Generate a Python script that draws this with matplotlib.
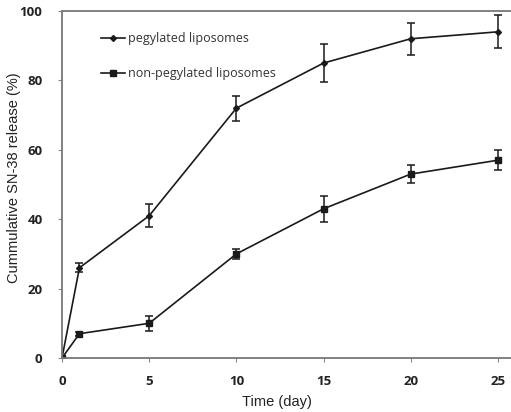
import matplotlib
matplotlib.use("Agg")
import matplotlib.pyplot as plt
from matplotlib.lines import Line2D

days = [0, 1, 5, 10, 15, 20, 25]
peg = [0, 26, 41, 72, 85, 92, 94]
peg_err = [0, 1.3, 3.3, 3.6, 5.5, 4.6, 4.8]
nonpeg = [0, 7, 10, 30, 43, 53, 57]
nonpeg_err = [0, 0.6, 2.1, 1.5, 3.7, 2.6, 2.8]
xticks = [0, 5, 10, 15, 20, 25]
yticks = [0, 20, 40, 60, 80, 100]
labels = ['pegylated liposomes', 'non-pegylated liposomes']

fig = plt.figure(figsize=(5.11, 4.12), dpi=100)
ax = fig.add_axes([62/511, 1-358/412, 449/511, 347/412])

lc = '#1a1a1a'
ax.errorbar(days, peg, yerr=peg_err, color=lc, lw=1.2, marker='D', ms=3.0,
            capsize=3, elinewidth=1.1, capthick=1.1)
ax.errorbar(days, nonpeg, yerr=nonpeg_err, color=lc, lw=1.2, marker='s', ms=4.3,
            capsize=3, elinewidth=1.1, capthick=1.1)

ax.set_xlim(0, 25.75)
ax.set_ylim(0, 100)
ax.set_xticks(xticks)
ax.set_yticks(yticks)
ax.spines['right'].set_visible(False)
for s in ['left', 'bottom', 'top']:
    ax.spines[s].set_color('#777777')
    ax.spines[s].set_linewidth(1.3)
ax.tick_params(axis='both', direction='out', length=3, color='#888888', width=0.8)
ax.tick_params(axis='x', pad=9)
ax.tick_params(axis='y', pad=11)
for lab in ax.get_xticklabels() + ax.get_yticklabels():
    lab.set_fontfamily('Open Sans')
    lab.set_fontweight('bold')
    lab.set_fontsize(9.5)
    lab.set_color('#222222')

fig.text(14/511, 1-178/412, 'Cummulative SN-38 release (%)', rotation=90,
         ha='center', va='center', family='Liberation Sans', fontsize=10.5, color='#222222')
fig.text(277/511, 1-402/412, 'Time (day)', ha='center', va='center',
         family='Liberation Sans', fontsize=10.5, color='#222222')

handles = [Line2D([], [], color=lc, lw=1.2, marker='D', ms=3.0),
           Line2D([], [], color=lc, lw=1.2, marker='s', ms=4.3)]
leg = ax.legend(handles, labels, loc='upper left', bbox_to_anchor=(34/449, 1-16/347),
                frameon=False, prop={'family': 'Open Sans', 'size': 9},
                handlelength=1.9, handletextpad=0.3, labelspacing=1.75, borderaxespad=0)
for t in leg.get_texts():
    t.set_color('#333333')

fig.savefig('out.png', dpi=100)
